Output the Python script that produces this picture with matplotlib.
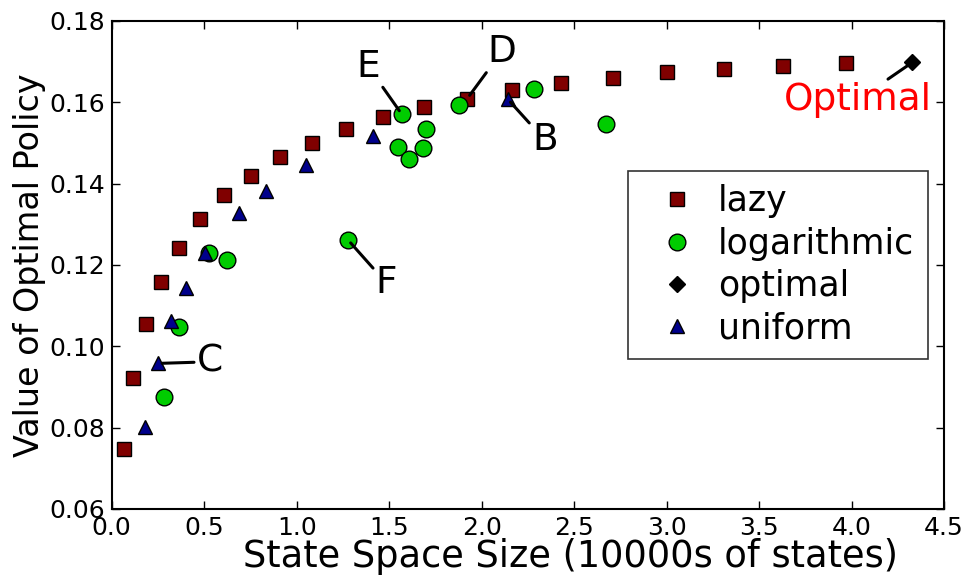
import matplotlib
matplotlib.use("Agg")
import matplotlib.pyplot as plt

plt.rcParams['font.family'] = ['DejaVu Sans']

# ---- data ----
lazy_x = [0.066, 0.117, 0.185, 0.266, 0.362, 0.477, 0.607, 0.751, 0.910, 1.081,
          1.266, 1.466, 1.688, 1.922, 2.166, 2.429, 2.708, 3.000, 3.310, 3.627, 3.968]
lazy_y = [0.0748, 0.0921, 0.1054, 0.1158, 0.1242, 0.1313, 0.1371, 0.1420, 0.1465, 0.1501,
          0.1535, 0.1563, 0.1588, 0.1609, 0.1630, 0.1647, 0.1660, 0.1674, 0.1682, 0.1690, 0.1696]

log_x = [0.283, 0.362, 0.528, 0.625, 1.277, 1.548, 1.607, 1.681, 1.697, 1.568,
         1.879, 2.284, 2.670]
log_y = [0.0876, 0.1047, 0.1229, 0.1212, 0.1262, 0.1491, 0.1461, 0.1487, 0.1534, 0.1571,
         0.1593, 0.1634, 0.1546]

opt_x = [4.328]
opt_y = [0.1698]

uni_x = [0.182, 0.250, 0.322, 0.402, 0.506, 0.690, 0.834, 1.052, 1.414, 2.141]
uni_y = [0.0802, 0.0958, 0.1063, 0.1143, 0.1229, 0.1329, 0.1383, 0.1446, 0.1516, 0.1608]

# annotations: label, target point, text position
ann_labels = ['E', 'D', 'B', 'F', 'C', 'Optimal']
ann_targets = [(log_x[9], log_y[9]), (lazy_x[13], lazy_y[13]), (uni_x[9], uni_y[9]),
               (log_x[4], log_y[4]), (uni_x[1], uni_y[1]), (opt_x[0], opt_y[0])]
ann_text = [(1.387, 0.1688), (2.108, 0.1724), (2.342, 0.1507), (1.486, 0.1155),
            (0.531, 0.0962), (4.034, 0.1606)]
ann_colors = ['black', 'black', 'black', 'black', 'black', 'red']

fig = plt.figure(figsize=(9.67, 5.77), dpi=100)
ax = fig.add_axes([111.7/967, 1-509/577, (944-111.7)/967, (509-21)/577])

ax.plot(lazy_x, lazy_y, 's', color='#800000', mec='black', mew=1, ms=9.5, label='lazy', zorder=3)
ax.plot(log_x, log_y, 'o', color='#00cc00', mec='black', mew=1, ms=12, label='logarithmic', zorder=3)
ax.plot(opt_x, opt_y, 'D', color='black', mec='black', mew=1, ms=8.5, label='optimal', zorder=3)
ax.plot(uni_x, uni_y, '^', color='#00008b', mec='black', mew=1, ms=10.5, label='uniform', zorder=3)

for lab, tgt, txt, c in zip(ann_labels, ann_targets, ann_text, ann_colors):
    ax.annotate(lab, xy=tgt, xytext=txt, fontsize=27, color=c, ha='center', va='center',
                arrowprops=dict(arrowstyle='-', color='black', lw=2.2, shrinkA=0, shrinkB=3),
                zorder=4)

ax.set_xlim(0, 4.5)
ax.set_ylim(0.06, 0.18)
ax.set_xticks([0, 0.5, 1, 1.5, 2, 2.5, 3, 3.5, 4, 4.5])
ax.set_yticks([0.06, 0.08, 0.10, 0.12, 0.14, 0.16, 0.18])
ax.tick_params(direction='in', top=True, right=True, length=6, width=1, labelsize=18, pad=5)
for s in ax.spines.values():
    s.set_linewidth(1.5)
ax.set_xlabel('State Space Size (10000s of states)', fontsize=26.5, labelpad=0)
ax.xaxis.set_label_coords(0.551, -0.059)
ax.xaxis.label.set_va('top')
ax.set_ylabel('Value of Optimal Policy', fontsize=24, labelpad=2)

leg = ax.legend(loc='center right', numpoints=1, fontsize=25, fancybox=False,
                handletextpad=0.2, labelspacing=0.24, borderpad=0.4, borderaxespad=0.45)
leg.get_frame().set_edgecolor('black')
leg.get_frame().set_linewidth(1.2)

fig.savefig('out.png', dpi=100)
